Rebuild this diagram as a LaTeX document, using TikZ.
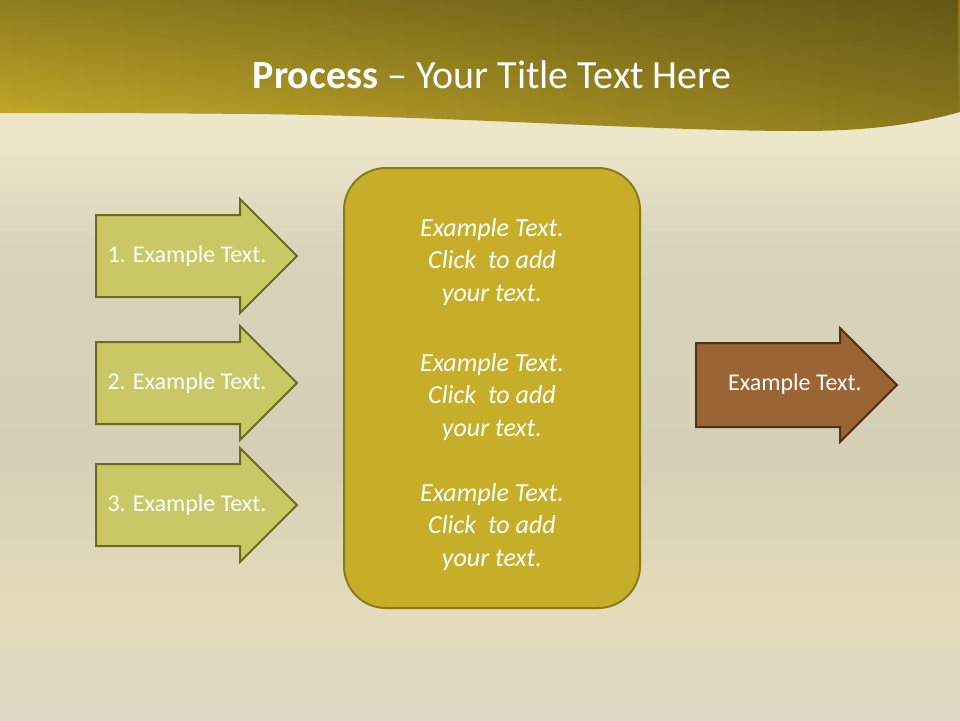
\documentclass[tikz,border=0pt]{standalone}
\usepackage{fontspec}
\setmainfont{Carlito}
\usetikzlibrary{fadings}
\definecolor{bgA}{HTML}{EDE6C9}
\definecolor{bgB}{HTML}{D9D3BB}
\definecolor{bgC}{HTML}{D6CFB6}
\definecolor{bgD}{HTML}{E4DBBA}
\definecolor{bgE}{HTML}{DDD7C6}
\definecolor{hdrL}{HTML}{C6AD2A}
\definecolor{hdrR}{HTML}{8C7A1E}
\definecolor{arrFill}{HTML}{C9C766}
\definecolor{arrLine}{HTML}{6C6C1F}
\definecolor{boxFill}{HTML}{C6AE28}
\definecolor{boxLine}{HTML}{8B7A1A}
\definecolor{brFill}{HTML}{9B6434}
\definecolor{brLine}{HTML}{4F3115}
\tikzset{
  arrowshape/.style={fill=arrFill, draw=arrLine, line width=2pt, line join=miter},
  brownshape/.style={fill=brFill, draw=brLine, line width=2pt, line join=miter},
  arrowtext/.style={text=white, font=\fontsize{24}{28}\selectfont, inner sep=0pt},
  boxtext/.style={text=white, font=\fontsize{26}{32.5}\selectfont\itshape, align=center, inner sep=0pt},
}
\begin{document}
\begin{tikzpicture}[x=1pt,y=-1pt]
\useasboundingbox (0,0) rectangle (960,720);
% background
\shade[top color=bgA, bottom color=bgA] (0,0) rectangle (960,141);
\shade[top color=bgA, bottom color=bgB] (0,140) rectangle (960,251);
\shade[top color=bgB, bottom color=bgC] (0,250) rectangle (960,451);
\shade[top color=bgC, bottom color=bgD] (0,450) rectangle (960,611);
\shade[top color=bgD, bottom color=bgE] (0,610) rectangle (960,720);
% header band
\shade[left color=hdrL, right color=hdrR]
  (0,0) -- (960,0) -- (960,112) .. controls (910,126) and (860,131) .. (800,131)
  .. controls (650,131) and (450,116) .. (250,114) .. controls (150,113) and (60,113) .. (0,113) -- cycle;
\fill[black, path fading=south, opacity=0.28]
  (0,0) -- (960,0) -- (960,112) .. controls (910,126) and (860,131) .. (800,131)
  .. controls (650,131) and (450,116) .. (250,114) .. controls (150,113) and (60,113) .. (0,113) -- cycle;
\node[text=white, font=\fontsize{40}{48}\selectfont, inner sep=0pt] (title) at (492,75)
  {\textbf{Process} – Your Title Text Here};
% left arrows
\foreach \c in {256, 383, 505} {
  \draw[arrowshape] (96,\c-41) -- (240,\c-41) -- (240,\c-57) -- (297,\c) -- (240,\c+57)
    -- (240,\c+41) -- (96,\c+41) -- cycle;
}
\node[arrowtext] (t1) at (187,256) {1. Example Text.};
\node[arrowtext] (t2) at (187,383) {2. Example Text.};
\node[arrowtext] (t3) at (187,505) {3. Example Text.};
% central box
\node[draw=boxLine, fill=boxFill, line width=2pt, rounded corners=42pt,
  minimum width=296pt, minimum height=440pt, inner sep=0pt] (box) at (492,388) {};
\node[boxtext] (b1) at (492,262) {Example Text.\\Click~ to add\\your text.};
\node[boxtext] (b2) at (492,397) {Example Text.\\Click~ to add\\your text.};
\node[boxtext] (b3) at (492,527) {Example Text.\\Click~ to add\\your text.};
% right arrow
\draw[brownshape] (696,343) -- (840,343) -- (840,328) -- (897,385) -- (840,442)
  -- (840,427) -- (696,427) -- cycle;
\node[arrowtext] (out) at (795,384) {Example Text.};
\end{tikzpicture}
\end{document}
